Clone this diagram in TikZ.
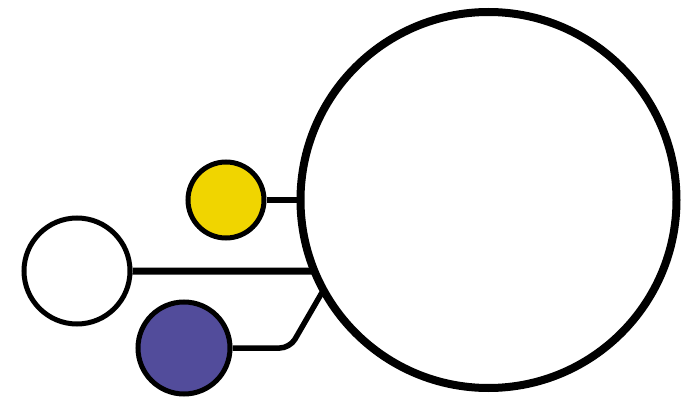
\documentclass[tikz,border=0pt]{standalone}
\usetikzlibrary{calc}
\definecolor{dotyellow}{RGB}{240,213,0}
\definecolor{dotblue}{RGB}{82,76,155}
\tikzset{
  dot/.style={circle, draw=black, line width=5pt, inner sep=0pt},
  bigdot/.style={circle, draw=black, line width=8pt, inner sep=0pt, fill=white},
  link/.style={draw=black, line width=5.5pt},
}
\begin{document}
\begin{tikzpicture}[x=1pt,y=1pt]
\useasboundingbox (0,0) rectangle (686,397);
\node[bigdot, minimum size=376pt] (big) at (488.5,197) {};
\node[dot, fill=dotyellow, minimum size=76pt] (yellow) at (226,197) {};
\node[dot, fill=white, minimum size=106pt] (white) at (77,126) {};
\node[dot, fill=dotblue, minimum size=92pt] (blue) at (184,49) {};
\coordinate (wend) at ($(big.center)+(202.2:188pt)$);
\coordinate (bend) at ($(big.center)+(208.6:188pt)$);
\coordinate (bcorner) at (289.9,49);
\draw[link] (yellow) -- (big);
\draw[link, line width=7pt] (white) -- (wend);
\draw[link, rounded corners=10pt] (blue) -- (bcorner) -- (bend);
\end{tikzpicture}
\end{document}
